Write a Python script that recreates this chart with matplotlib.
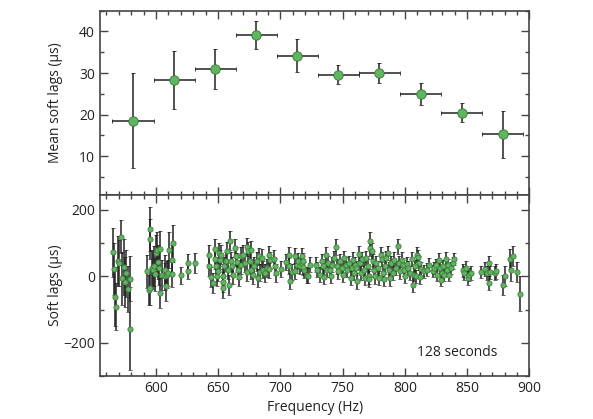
import matplotlib
matplotlib.use('Agg')
from matplotlib import pyplot as plt
from matplotlib.ticker import MultipleLocator

plt.rcParams['font.family'] = ['Open Sans', 'DejaVu Sans']
plt.rcParams['axes.unicode_minus'] = True

# top panel: mean soft lags in 10 frequency bins
bin_freq = [581.5, 614.5, 647.5, 680.5, 713.5, 746.5, 779.5, 812.5, 845.5, 878.5]
bin_halfwidth = [16.5] * 10
mean_lag = [18.6, 28.4, 31.0, 39.2, 34.2, 29.6, 30.0, 25.0, 20.5, 15.3]
mean_err = [11.4, 7.0, 4.9, 3.4, 4.0, 2.3, 2.5, 2.7, 2.2, 5.6]

# bottom panel: soft lags of the individual 128 s segments
freq = [565.3, 566.6, 567.0, 568.0, 569.5, 570.0, 571.7, 572.8, 574.4, 575.2,
        576.0, 577.3, 579.5, 579.2,
        592.9, 594.5, 594.8, 595.0, 595.2, 596.5, 597.5, 598.6, 598.8, 599.6,
        601.0, 601.5, 602.3, 603.0, 603.5, 604.5, 607.0, 607.6, 608.0, 608.5,
        610.0, 610.7, 612.6, 613.4, 613.0, 619.7, 625.6, 626.0, 631.0,
        642.5, 642.8, 644.5, 645.5, 647.3, 647.0, 648.3, 649.0, 650.0, 650.8,
        651.5, 652.6, 653.5, 653.8, 654.0, 654.5, 656.0, 657.0, 657.6, 659.0,
        659.5, 660.0, 661.4, 662.0, 663.4, 664.0, 665.0, 666.0, 667.0, 668.0,
        668.6, 670.0, 671.3, 672.7, 673.4, 674.0, 675.3, 676.0, 676.7, 678.0,
        679.0, 681.0, 681.6, 682.8, 683.5, 685.0, 686.0, 687.6, 689.0, 690.8,
        691.6, 691.0, 694.5, 695.8, 696.5, 700.7, 704.5, 706.6, 707.0, 707.8,
        709.0, 711.6, 712.0, 712.9, 714.0, 715.6, 717.0, 717.6, 719.0, 721.0,
        717.8, 718.3, 722.4, 723.5, 728.3, 729.6, 731.5, 733.0, 734.0, 735.0,
        736.3, 737.0, 738.5, 739.6, 740.4, 741.7, 743.0, 744.4, 745.0, 746.5,
        747.6, 749.0, 750.3, 751.0, 752.4, 753.8, 755.0, 756.5, 757.2, 758.3,
        759.0, 760.0, 761.0, 761.8, 763.0, 764.0, 764.5, 765.8, 767.0, 768.0,
        768.5, 770.0, 770.7, 771.2, 771.7, 772.0, 773.4, 774.0, 775.2, 776.0,
        777.0, 778.7, 779.2, 780.5, 781.4, 782.0, 783.2, 784.0, 785.0, 786.7,
        787.2, 787.8, 788.6, 790.0, 791.3, 792.6, 794.0, 794.8, 795.8, 797.5,
        798.5, 799.3, 800.1, 802.0, 802.8, 803.9, 806.0, 806.6, 807.4, 808.2,
        809.2, 810.0, 810.8, 811.4, 811.9, 812.7, 815.4, 817.3, 818.9,
        822.1, 823.4, 824.8, 826.1, 827.0, 828.0, 828.8, 829.6, 830.2, 831.5,
        832.8, 833.4, 834.2, 835.5, 836.8, 838.2, 839.5,
        846.2, 847.6, 849.0, 850.3, 851.1, 853.0, 861.0, 864.5, 865.5, 867.1,
        867.7, 868.2, 872.5, 873.0, 878.9, 880.5, 884.3, 885.0, 887.0, 889.6,
        892.3]
lag = [72, 23, -61, -91, 47, 40, 120, -6, 28, -16,
       9, -38, -7, -157,
       15, -42, 142, 112, -35, 25, 18, 32, 6, 70,
       78, 43, 25, -50, 82, 3, 20, 0, -30, 5,
       10, 80, 50, 99, 7, 3, 40, 16, 41,
       65, 30, -2, -20, 82, 52, 30, 0, 15, 70,
       50, 65, -18, -35, 2, 30, 45, 75, 20, -25,
       108, 45, 30, 5, 85, 60, 42, 20, -2, 60,
       35, 65, 40, 14, 88, 75, 45, 80, 20, 5,
       30, 45, -5, 60, 12, 55, 20, 10, 25, 65,
       48, 22, 52, 30, 10, 22, 42, 30, 65, -15,
       12, 15, 60, 35, 45, 30, 60, 40, 20, 5,
       28, 45, 2, 35, 35, 20, 5, 45, 30, -2,
       65, 20, 40, 20, 2, 35, 55, 88, 30, 15,
       45, 25, 5, 55, 35, 20, 40, -5, 25, 50,
       10, 35, 25, -13, 68, 40, 10, 52, 20, -5,
       55, 30, 0, -8, 85, 108, 75, 45, 20, 0,
       40, 25, -5, 65, 52, 10, -8, 30, 55, 70,
       20, -6, 40, 10, 50, 25, 90, 40, 15, 50,
       35, 20, 0, 38, 25, 10, 52, -25, 5, 30,
       0, 65, 58, 40, -2, 22, 15, 20, 35,
       15, 25, 35, 5, 50, 25, -10, 10, 30, 5,
       52, 20, 35, 5, 25, 40, 52,
       18, 10, 25, -5, 5, 10, 13, 22, 10, 40,
       -20, 12, 10, 15, -25, 0, 52, 20, 62, 13,
       -52]
lag_err = [75, 78, 88, 70, 75, 70, 50, 80, 85, 75,
           70, 70, 67, 125,
           50, 45, 67, 60, 50, 55, 55, 60, 50, 55,
           55, 50, 50, 45, 55, 45, 45, 40, 45, 40,
           40, 55, 45, 55, 40, 25, 28, 25, 30,
           28, 30, 30, 30, 30, 30, 28, 28, 28, 30,
           28, 28, 30, 30, 28, 28, 28, 30, 28, 30,
           30, 28, 28, 28, 28, 28, 28, 28, 28, 28,
           28, 28, 28, 28, 28, 28, 28, 28, 28, 28,
           28, 28, 28, 26, 26, 26, 26, 26, 26, 26,
           26, 26, 26, 26, 26, 24, 24, 24, 24, 24,
           24, 24, 24, 24, 24, 24, 24, 24, 24, 24,
           24, 24, 22, 22, 22, 22, 22, 22, 22, 22,
           24, 22, 22, 22, 22, 22, 22, 24, 22, 22,
           22, 22, 22, 22, 22, 22, 22, 22, 22, 22,
           22, 22, 22, 24, 24, 22, 22, 22, 22, 22,
           22, 22, 22, 24, 24, 26, 24, 22, 22, 22,
           22, 22, 22, 22, 22, 22, 22, 22, 22, 22,
           22, 22, 22, 22, 22, 22, 24, 22, 22, 22,
           20, 20, 20, 20, 20, 20, 20, 22, 20, 20,
           20, 22, 20, 20, 20, 20, 20, 20, 20,
           18, 18, 18, 18, 20, 18, 18, 18, 18, 18,
           20, 18, 18, 18, 18, 18, 18,
           20, 20, 20, 20, 20, 20, 18, 20, 20, 22,
           22, 20, 22, 22, 30, 30, 30, 35, 30, 30,
           52]

face = '#5cb85c'
edge = '#3d6e3b'
bar_col = '#222222'
spine_col = '#444444'

fig = plt.figure(figsize=(5.93, 4.19), dpi=100)
ax1 = fig.add_axes([0.1686, 0.5346, 0.7243, 0.44])
ax2 = fig.add_axes([0.1686, 0.1026, 0.7243, 0.432], sharex=ax1)

ax1.errorbar(bin_freq, mean_lag, xerr=bin_halfwidth, yerr=mean_err, fmt='o',
             ms=6.8, mfc=face, mec=edge, mew=0.6, ecolor=bar_col, elinewidth=1.1,
             capsize=1.5, capthick=1.0, zorder=3)
ax2.errorbar(freq, lag, yerr=lag_err, fmt='o', ms=3.8, mfc=face, mec=edge,
             mew=0.5, ecolor=bar_col, elinewidth=1.1, capsize=1.2, capthick=0.9,
             zorder=3)

ax1.set_ylim(0.7, 45)
ax2.set_ylim(-300, 245)
ax1.set_xlim(555, 900)

ax1.yaxis.set_major_locator(MultipleLocator(10))
ax1.yaxis.set_minor_locator(MultipleLocator(5))
ax2.yaxis.set_major_locator(MultipleLocator(200))
ax2.yaxis.set_minor_locator(MultipleLocator(100))
ax2.xaxis.set_major_locator(MultipleLocator(50))
ax2.xaxis.set_minor_locator(MultipleLocator(10))

for ax in (ax1, ax2):
    ax.tick_params(which='both', direction='in', top=True, right=True,
                   colors=spine_col, labelcolor='#222222', labelsize=10, width=1.0)
    ax.tick_params(which='major', length=5.5)
    ax.tick_params(which='minor', length=3)
    for s in ax.spines.values():
        s.set_color(spine_col)
        s.set_linewidth(1.2)
ax1.tick_params(labelbottom=False)

ax1.set_ylabel('Mean soft lags (\u03bcs)', fontsize=10, color='#222222')
ax2.set_ylabel('Soft lags (\u03bcs)', fontsize=10, color='#222222')
ax2.set_xlabel('Frequency (Hz)', fontsize=10, color='#222222', labelpad=3)
ax1.yaxis.set_label_coords(-0.085, 0.5)
ax2.yaxis.set_label_coords(-0.085, 0.5)

ax2.text(842, -228, '128 seconds', ha='center', va='center', fontsize=10,
         color='#222222')

plt.savefig('out.png', dpi=100)
